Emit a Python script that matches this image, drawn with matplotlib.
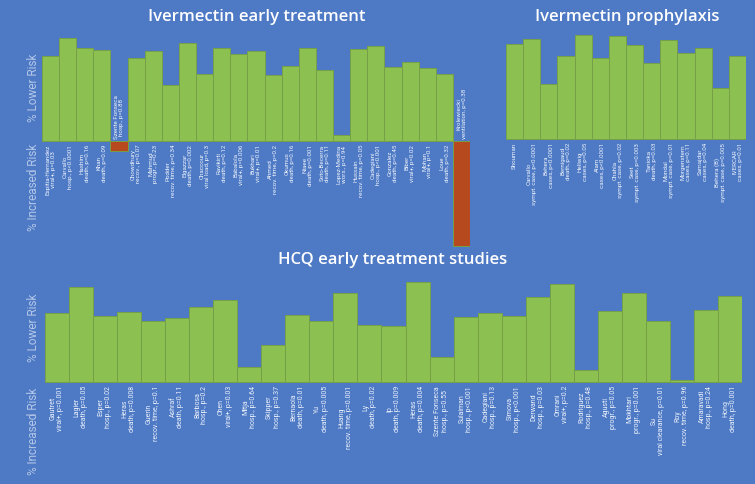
import matplotlib
matplotlib.use("Agg")
import matplotlib.pyplot as plt
from matplotlib.transforms import offset_copy

# ---------------- data ----------------
ivm_early_labels = [
    "Espitia-Hernandez\nviral+, p=0.03", "Carvallo\nhosp., p<0.0001", "Hashim\ndeath, p=0.16",
    "Khan\ndeath, p=0.09", "Szente Fonseca\nhosp., p=0.88", "Chowdhury\nrecov., p=0.07",
    "Mahmud\nprogr., p=0.23", "Podder\nrecov. time, p=0.34", "Elgazzar\ndeath, p=0.002",
    "Chaccour\nviral load, p=0.3", "Ravikirti\ndeath, p=0.12", "Babalola\nviral+, p=0.006",
    "Bukhari\nviral+, p=0.01", "Ahmed\nrecov. time, p=0.2", "Okumus\ndeath, p=0.16",
    "Niaee\ndeath, p=0.001", "Soto-Becerra\ndeath, p=0.11", "Lopez-Medina\nwors., p=0.94",
    "Hussain\nrecov. time, p=0.05", "Cadegiani\nhosp., p<0.001", "Gonzalez\ndeath, p=0.45",
    "Biber\nviral+, p=0.02", "Mohan\nviral+, p=0.1", "Loue\ndeath, p=0.32",
    "Krolewiecki\nventilation, p=0.38",
]
ivm_early_values = [80, 97, 88, 86, -9, 78, 85, 53, 92, 63, 88, 82, 85, 62, 71,
                    88, 67, 6, 87, 90, 70, 75, 69, 63, -99]

ivm_proph_labels = [
    "Shouman", "Carvallo\nsympt. case, p<0.0001", "Behera\ncases, p<0.0001", "Bernigaud\ndeath, p=0.02",
    "Hellwig\ncases, p=0.05", "Alam\ncases, p<0.0001", "Chahla\nsympt. case, p=0.02",
    "Seet\nsympt. case, p=0.003", "Tanioka\ndeath, p=0.03", "Mondal\nsympt. case, p=0.01",
    "Morgenstern\ncases, p=0.11", "Samajdar\ncases, p=0.04", "Behera (B)\nsympt. case, p=0.005",
    "IVERCAR\ncases, p=0.01",
]
ivm_proph_values = [90, 94, 52, 78, 98, 76, 97, 89, 72, 93, 81, 86, 48, 78]

hcq_labels = [
    "Gautret\nviral+, p=0.001", "Lagier\ndeath, p=0.05", "Esper\nhosp., p=0.02",
    "Heras\ndeath, p=0.008", "Guerin\nrecov. time, p=0.1", "Ashraf\ndeath, p=0.11",
    "Barbosa\nhosp., p=0.2", "Chen\nviral+, p=0.03", "Mitja\nhosp., p=0.64",
    "Skipper\nhosp., p=0.37", "Bernaola\ndeath, p=0.01", "Yu\ndeath, p=0.005",
    "Huang\nrecov. time, p=0.001", "Ly\ndeath, p=0.02", "Ip\ndeath, p=0.009",
    "Heras\ndeath, p=0.004", "Szente Fonseca\nhosp., p=0.55", "Sulaiman\nhosp., p<0.001",
    "Cadegiani\nhosp., p=0.13", "Simova\nhosp., p<0.001", "Derwand\nhosp., p=0.03",
    "Omrani\nviral+, p=0.2", "Rodriguez\nhosp., p=0.48", "Agusti\nprogr., p=0.05",
    "Mokhtari\nprogr., p=0.001", "Su\nviral clearance, p=0.01", "Roy\nrecov. time, p=0.96",
    "Amaravadi\nhosp., p=0.24", "Hong\ndeath, p=0.001",
]
hcq_values = [65, 90, 62, 66, 58, 60, 71, 77, 14, 35, 63, 58, 84, 54, 53, 94, 24,
              61, 65, 62, 80, 92, 11, 67, 84, 58, 2, 68, 81]

# ---------------- style ----------------
BG = "#4d79c5"
GREEN = "#8cc152"
EDGE = "#76a048"
RED = "#b6491d"
TXT = "#eef3fb"
YTXT = "#b4c7e8"

fig = plt.figure(figsize=(7.55, 4.85), dpi=100, facecolor=BG)


def panel(rect, labels, values, ylim, lower_y, incr_y, ylab_x, fs):
    ax = fig.add_axes(rect)
    ax.set_facecolor(BG)
    x = list(range(len(values)))
    colors = [GREEN if v >= 0 else RED for v in values]
    ax.bar(x, values, width=1.0, color=colors, edgecolor=EDGE, linewidth=0.7)
    ax.set_xlim(-0.5, len(values) - 0.5)
    ax.set_ylim(*ylim)
    ax.axis("off")
    down = offset_copy(ax.transData, fig=fig, x=0, y=-2, units="points")
    up = offset_copy(ax.transData, fig=fig, x=0, y=2, units="points")
    for xi, v, lab in zip(x, values, labels):
        if v >= 0:
            ax.text(xi, 0, lab, rotation=90, ha="center", va="top", fontsize=fs,
                    color=TXT, transform=down, family="Roboto", linespacing=1.1)
        else:
            ax.text(xi, 0, lab, rotation=90, ha="center", va="bottom", fontsize=fs,
                    color=TXT, transform=up, family="Roboto", linespacing=1.1)
    ytr = ax.get_yaxis_transform()
    if lower_y is not None:
        ax.text(ylab_x, lower_y, "% Lower Risk", rotation=90, ha="center", va="center",
                fontsize=8.5, color=YTXT, transform=ytr, family="Roboto", clip_on=False)
        ax.text(ylab_x, incr_y, "% Increased Risk", rotation=90, ha="center", va="center",
                fontsize=8.5, color=YTXT, transform=ytr, family="Roboto", clip_on=False)
    return ax


W, H = 755.0, 485.0
# Ivermectin early treatment: x 42..470, y(100)=36, y(-100)=248
panel([42 / W, 1 - 248 / H, 428 / W, 212 / H], ivm_early_labels, ivm_early_values,
      (-100, 100), 51, -43, -0.021, 4.5)
# Ivermectin prophylaxis: x 506..746, y(100)=34, y(-100)=246
panel([506 / W, 1 - 246 / H, 240 / W, 212 / H], ivm_proph_labels, ivm_proph_values,
      (-100, 100), None, None, 0, 4.5)
# HCQ early: x 45..742, baseline 383
panel([45 / W, 1 - 484 / H, 697 / W, 207 / H], hcq_labels, hcq_values,
      (-95, 100), 52, -45, -0.016, 5.0)

fig.text(257 / W, 1 - 17 / H, "Ivermectin early treatment", ha="center", va="center",
         fontsize=12, color="white", family="Open Sans", weight="semibold")
fig.text(627 / W, 1 - 17 / H, "Ivermectin prophylaxis", ha="center", va="center",
         fontsize=12, color="white", family="Open Sans", weight="semibold")
fig.text(393 / W, 1 - 260 / H, "HCQ early treatment studies", ha="center", va="center",
         fontsize=12, color="white", family="Open Sans", weight="semibold")

fig.savefig("out.png", dpi=100, facecolor=BG)
